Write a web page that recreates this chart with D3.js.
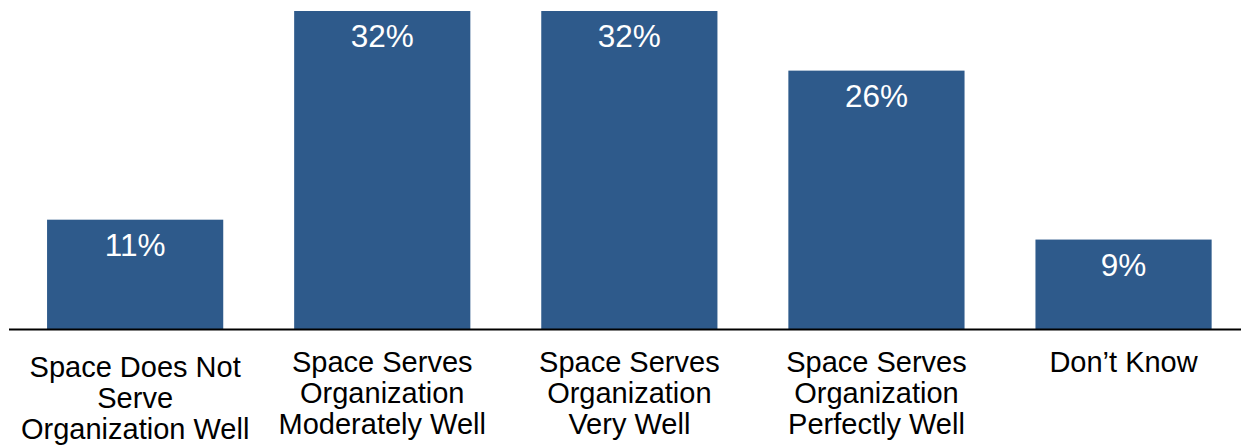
<!DOCTYPE html>
<html>
<head>
<meta charset="utf-8">
<script src="https://cdn.jsdelivr.net/npm/d3@7"></script>
<style>
  html, body { margin: 0; padding: 0; background: #fff; }
  svg { display: block; }
</style>
</head>
<body>
<svg id="chart" width="1241" height="446"></svg>
<script>
// Survey responses: how well the space serves the organization
const categories = [
  ["Space Does Not", "Serve", "Organization Well"],
  ["Space Serves", "Organization", "Moderately Well"],
  ["Space Serves", "Organization", "Very Well"],
  ["Space Serves", "Organization", "Perfectly Well"],
  ["Don\u2019t Know"]
];
const values = [11, 32, 32, 26, 9];
const valueLabels = ["11%", "32%", "32%", "26%", "9%"];

const W = 1241, H = 446;
const baseY = 329;
const svg = d3.select("#chart");
const font = "'Liberation Sans', Arial, Helvetica, sans-serif";

const x = d3.scaleBand()
  .domain(d3.range(values.length))
  .range([11.6, 1247.1])
  .paddingInner(0.287)
  .paddingOuter(0.1435);

const y = d3.scaleLinear()
  .domain([0, 32])
  .range([baseY, 11]);

// bars
svg.append("g")
  .selectAll("rect")
  .data(values)
  .join("rect")
  .attr("x", (d, i) => x(i))
  .attr("y", d => y(d))
  .attr("width", x.bandwidth())
  .attr("height", d => y(0) - y(d))
  .attr("fill", "#2e5a8b");

// value labels inside the top of each bar
svg.append("g")
  .selectAll("text")
  .data(values)
  .join("text")
  .attr("x", (d, i) => x(i) + x.bandwidth() / 2)
  .attr("y", d => y(d) + 36)
  .attr("text-anchor", "middle")
  .attr("fill", "#ffffff")
  .style("font-family", font)
  .style("font-size", "31.5px")
  .text((d, i) => valueLabels[i]);

// baseline
svg.append("line")
  .attr("x1", 9).attr("x2", W)
  .attr("y1", baseY + 0.5).attr("y2", baseY + 0.5)
  .attr("stroke", "#000")
  .attr("stroke-width", 2.2);

// category labels, one tspan per line
const cat = svg.append("g")
  .selectAll("text")
  .data(categories)
  .join("text")
  .attr("text-anchor", "middle")
  .attr("fill", "#000")
  .style("font-family", font)
  .style("font-size", "29px")
  .attr("transform", (d, i) => `translate(${x(i) + x.bandwidth() / 2},${i === 0 ? 377 : 372})`);

cat.selectAll("tspan")
  .data(d => d)
  .join("tspan")
  .attr("x", 0)
  .attr("y", (d, j) => j * 31)
  .text(d => d);
</script>
</body>
</html>
